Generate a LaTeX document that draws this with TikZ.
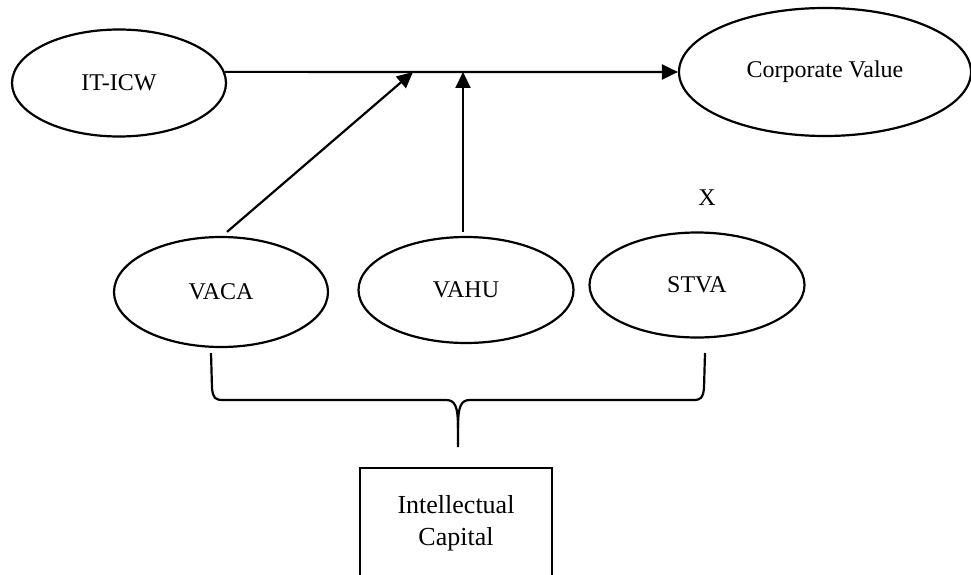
\documentclass[tikz,border=0pt]{standalone}
\usepackage{fontspec}
\setmainfont{Liberation Serif}
\usetikzlibrary{shapes.geometric,arrows.meta}
\tikzset{
  oval/.style={ellipse, draw, line width=2.2pt, inner sep=0pt, font=\fontsize{24}{28}\selectfont},
  arr/.style={line width=2.2pt, -{Triangle[length=16pt,width=15pt]}},
  brace/.style={line width=2.2pt, line join=round},
  capbox/.style={draw, line width=2.2pt, align=center, minimum width=192pt, inner ysep=27pt, anchor=north, font=\fontsize{26}{32}\selectfont},
  plain/.style={font=\fontsize{24}{28}\selectfont, inner sep=0pt}
}
\begin{document}
\begin{tikzpicture}[x=1pt,y=-1pt]
\clip (0,0) rectangle (971,575);
\useasboundingbox (0,0) rectangle (971,575);
\fill[white] (0,0) rectangle (971,575);
% nodes
\node[oval, minimum width=214pt, minimum height=107pt] (itic) at (119,83) {IT-ICW};
\node[oval, minimum width=292pt, minimum height=128pt] (cv) at (825,72) {Corporate Value};
\node[oval, minimum width=214pt, minimum height=110pt] (vaca) at (221,292) {VACA};
\node[oval, minimum width=215pt, minimum height=106pt] (vahu) at (466,290) {VAHU};
\node[oval, minimum width=215pt, minimum height=105pt] (stva) at (697,285) {STVA};
\node[plain] (x) at (707,198) {X};
\node[capbox] (ic) at (456,467) {Intellectual\\Capital};
% connectors
\coordinate (m1) at (413,72);
\coordinate (m2) at (463,72);
\draw[arr] (itic.6) -- (cv.west);
\draw[arr] ([xshift=6pt,yshift=4pt]vaca.north) -- (m1);
\draw[arr] ([xshift=-3pt,yshift=4pt]vahu.north) -- (m2);
% brace
\coordinate (bl) at (211,353);
\coordinate (br) at (705,353);
\coordinate (bc) at (458,447);
\draw[brace] (bl) -- (212,388) .. controls (213,398) and (215,400) .. (223,400)
  -- (446,400) .. controls (455,400) and (458,406) .. (458,428) -- (bc);
\draw[brace] (458,428) .. controls (458,406) and (461,400) .. (470,400)
  -- (693,400) .. controls (701,400) and (703,398) .. (704,388) -- (br);
\end{tikzpicture}
\end{document}
